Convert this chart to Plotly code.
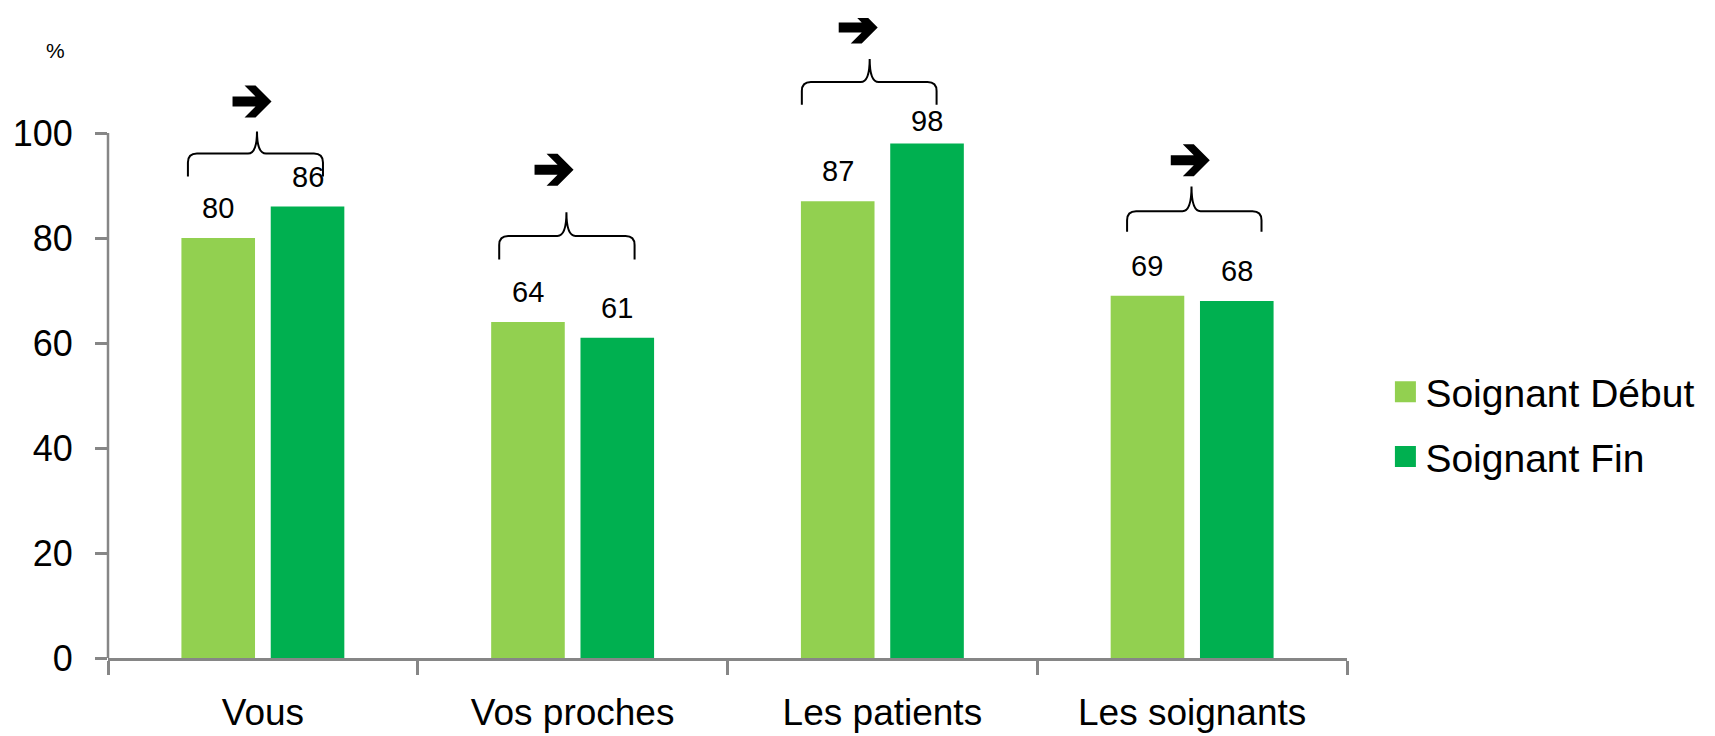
import plotly.graph_objects as go

categories = ["Vous", "Vos proches", "Les patients", "Les soignants"]
debut = [80, 64, 87, 69]
fin = [86, 61, 98, 68]
series_names = ["Soignant Début", "Soignant Fin"]
y_ticks = [0, 20, 40, 60, 80, 100]

# brace annotations (relative x to category centre, y in axis units)
brace_xl = [-0.242, -0.237, -0.260, -0.210]
brace_xr = [0.194, 0.200, 0.175, 0.224]
brace_xc = [-0.019, -0.020, -0.041, -0.002]
brace_ye = [91.7, 75.9, 105.4, 81.2]
brace_yh = [96.1, 80.4, 109.7, 85.1]
brace_yp = [100.3, 84.9, 114.1, 89.8]
arrow_x = [-0.035, -0.060, -0.078, -0.006]
arrow_y = [106.0, 93.0, 120.1, 94.8]

C_LIGHT = "#92D050"
C_DARK = "#00B050"
GRAY = "#868686"
FONT = "Liberation Sans"

# page has an 8px body margin; figure sized to reach the window's edges
W, H = 1707, 728
ML, MR, MT, MB = 100, 368, 10, 78
plot_w = W - ML - MR
plot_h = H - MT - MB
px_per_y = 5.25
y_top = plot_h / px_per_y
px_per_x = plot_w / 4.0

BARGAP = 0.4233
GROUPGAP = 0.176
xs = list(range(len(categories)))

fig = go.Figure()
fig.add_trace(go.Bar(x=xs, y=debut, name=series_names[0], marker_color=C_LIGHT,
                     showlegend=False))
fig.add_trace(go.Bar(x=xs, y=fin, name=series_names[1], marker_color=C_DARK,
                     showlegend=False))
# legend entries
for i, (nm, col) in enumerate(zip(series_names, [C_LIGHT, C_DARK])):
    fig.add_trace(go.Scatter(x=[None], y=[None], mode="markers", name=nm,
                             legendgroup=f"g{i}",
                             marker=dict(symbol="square", size=16, color=col,
                                         line=dict(width=5, color=col))))

# value labels
off = (1 - BARGAP) / 4
annotations = []
for i in xs:
    for vals, o in ((debut, -off), (fin, off)):
        annotations.append(dict(x=i + o, y=vals[i], xref="x", yref="y",
                                text=str(vals[i]), showarrow=False,
                                yshift=23 if vals[i] >= 95 else 30,
                                font=dict(size=29, color="#000000", family=FONT)))
annotations.append(dict(x=(47 - ML) / plot_w, y=(H - MB - 43) / plot_h,
                        xref="paper", yref="paper", text="%",
                        xanchor="center", yanchor="middle",
                        showarrow=False, font=dict(size=21, color="#000000", family=FONT)))

shapes = []
rx = 9 / px_per_x
ry = 9 / px_per_y
for i in xs:
    xl = i + brace_xl[i]
    xr = i + brace_xr[i]
    xc = i + brace_xc[i]
    ye, yh, yp = brace_ye[i], brace_yh[i], brace_yp[i]
    path = (f"M {xl},{ye} L {xl},{yh - ry} Q {xl},{yh} {xl + rx},{yh} "
            f"L {xc - rx},{yh} Q {xc},{yh} {xc},{yp} "
            f"Q {xc},{yh} {xc + rx},{yh} "
            f"L {xr - rx},{yh} Q {xr},{yh} {xr},{yh - ry} L {xr},{ye}")
    shapes.append(dict(type="path", path=path, xref="x", yref="y",
                       line=dict(color="#000000", width=2)))

# bold right arrows (pixel outline, centred)
arrow_px = [(0, 5), (23, 5), (12, 16), (23, 16), (39, 0), (23, -16),
            (12, -16), (23, -5), (0, -5)]
for i in xs:
    cx = i + arrow_x[i]
    cy = arrow_y[i]
    pts = [(cx + (px - 19.5) / px_per_x, cy + py / px_per_y) for px, py in arrow_px]
    path = "M " + " L ".join(f"{a},{b}" for a, b in pts) + " Z"
    shapes.append(dict(type="path", path=path, xref="x", yref="y",
                       fillcolor="#000000", line=dict(width=0)))

# y axis line (only from 0 to 100)
shapes.append(dict(type="line", xref="paper", yref="y", x0=0, x1=0,
                   y0=0, y1=max(y_ticks), line=dict(color=GRAY, width=2.5)))

fig.update_layout(
    template="none",
    width=W, height=H,
    margin=dict(l=ML, r=MR, t=MT, b=MB, autoexpand=False),
    paper_bgcolor="white", plot_bgcolor="white",
    barmode="group", bargap=BARGAP, bargroupgap=GROUPGAP,
    font=dict(family=FONT, color="#000000"),
    annotations=annotations, shapes=shapes,
    showlegend=True,
    legend=dict(x=1.031, y=0.365, xanchor="left", yanchor="middle",
                font=dict(size=39, family=FONT, color="#000000"),
                tracegroupgap=11, itemsizing="trace", bgcolor="rgba(0,0,0,0)"),
    xaxis=dict(range=[-0.5, 3.5], tickvals=xs, ticktext=categories, ticks="",
               automargin=False,
               showgrid=False, zeroline=False, showline=True, linecolor=GRAY,
               linewidth=2.5, tickfont=dict(size=37, family=FONT),
               ticklabelstandoff=20,
               minor=dict(tickvals=[-0.5, 0.5, 1.5, 2.5, 3.5], ticks="outside",
                          ticklen=14, tickwidth=2.5, tickcolor=GRAY, showgrid=False)),
    yaxis=dict(range=[0, y_top], tickvals=y_ticks, ticks="outside", ticklen=12,
               automargin=False,
               tickwidth=2.5, tickcolor=GRAY, showgrid=False, zeroline=False,
               showline=False, tickfont=dict(size=36, family=FONT),
               ticklabelstandoff=15),
)

fig.write_html("out.html")
